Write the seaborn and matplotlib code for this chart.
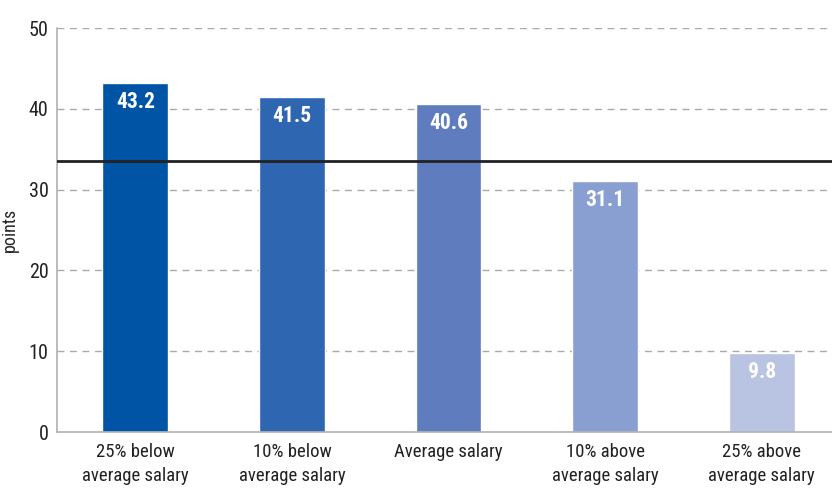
import pandas as pd
import numpy as np
import matplotlib.pyplot as plt
import seaborn as sns

categories = ['25% below\naverage salary', '10% below\naverage salary', 'Average salary',
              '10% above\naverage salary', '25% above\naverage salary']
values = [43.2, 41.5, 40.6, 31.1, 9.8]
colors = ['#0054a6', '#2e66b2', '#5f7cbf', '#8a9fd1', '#b9c3e2']
ref_level = 33.5
yticks = [0, 10, 20, 30, 40, 50]

sns.set_style('white')
plt.rcParams['font.family'] = ['Liberation Sans Narrow', 'Roboto Condensed', 'DejaVu Sans']
plt.rcParams['font.stretch'] = 'condensed'
plt.rcParams['text.color'] = '#222222'

df = pd.DataFrame({'group': categories, 'points': values})

fig = plt.figure(figsize=(8.32, 4.88), dpi=100)
ax = fig.add_axes([57 / 832, 56 / 488, (840 - 57) / 832, (432 - 28) / 488])

sns.barplot(data=df, x='group', y='points', hue='group', palette=colors,
            legend=False, width=0.42, saturation=1, ax=ax, zorder=2)

for i, v in enumerate(values):
    ax.text(i, v - 1.0, f'{v}', ha='center', va='top', color='white',
            fontsize=15.5, fontweight='bold', zorder=3)

ax.axhline(ref_level, color='#222222', lw=2, zorder=4)

ax.set_ylim(0, 50)
ax.set_xlim(-0.5, 4.5)
ax.set_yticks(yticks)
for t in yticks[1:]:
    ax.axhline(t, color='#aaaaaa', lw=1, ls=(0, (5, 4)), zorder=1)

ax.set_xlabel('')
ax.set_ylabel('points', fontsize=13)
ax.yaxis.set_label_coords(-38 / 783, 0.5)
ax.tick_params(axis='y', labelsize=14.5, length=0, pad=6, labelcolor='#222222')
ax.tick_params(axis='x', labelsize=13.5, length=0, pad=8, labelcolor='#222222')
for lab in ax.get_xticklabels():
    lab.set_linespacing(1.45)

for s in ['top', 'right']:
    ax.spines[s].set_visible(False)
for s in ['left', 'bottom']:
    ax.spines[s].set_color('#b0b0b0')
    ax.spines[s].set_linewidth(1.2)

fig.savefig('out.png', dpi=100)
